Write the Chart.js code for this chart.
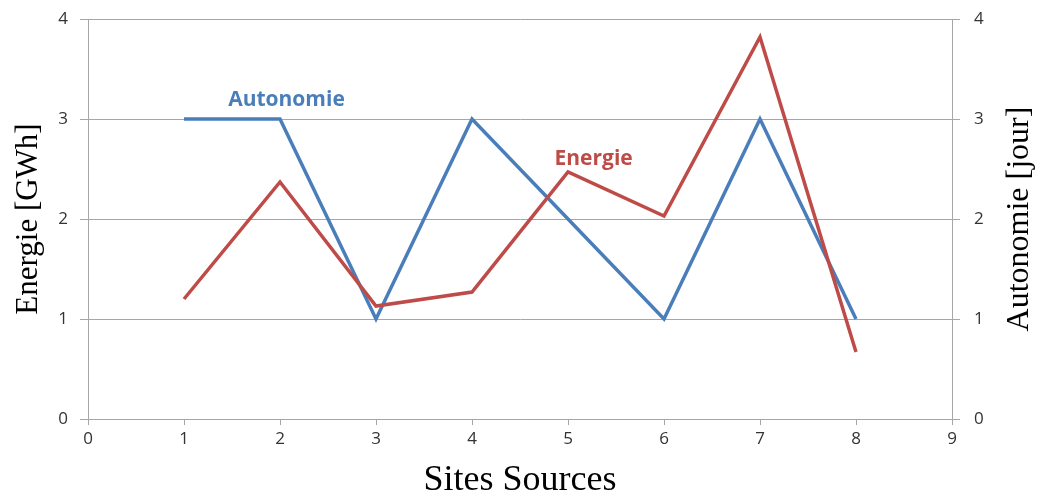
<!DOCTYPE html>
<html>
<head>
    <title>Energie et Autonomie par site</title>
    <script src="https://cdn.jsdelivr.net/npm/chart.js"></script>
    <style>
        html, body { margin: 0; padding: 0; background: #fff; }
        #wrap { width: 1040px; height: 497px; position: relative; }
    </style>
</head>
<body>
    <div id="wrap"><canvas id="chart"></canvas></div>

    <script>
        // Data
        const sites = [1, 2, 3, 4, 5, 6, 7, 8];
        const energie = [1.2, 2.37, 1.13, 1.27, 2.47, 2.03, 3.82, 0.67];   // GWh, left axis
        const autonomie = [3, 3, 1, 3, 2, 1, 3, 1];                        // jour, right axis
        const xTicks = [0, 1, 2, 3, 4, 5, 6, 7, 8, 9];
        const yTicks = [0, 1, 2, 3, 4];

        const BLUE = '#4a7ebb';
        const RED = '#be4b48';
        const GRID = '#a6a6a6';
        const TICK_FONT = { family: 'Open Sans', size: 17 };

        // series names written next to the lines, anchored in data space
        const seriesLabels = [
            { text: 'Autonomie', x: 1.46, y: 3.19, color: BLUE },
            { text: 'Energie', x: 4.86, y: 2.6, color: RED }
        ];

        const labelPlugin = {
            id: 'seriesLabels',
            afterDatasetsDraw(chart) {
                const ctx = chart.ctx;
                const xs = chart.scales.x, ys = chart.scales.y;
                ctx.save();
                ctx.font = 'bold 21px "Open Sans"';
                ctx.textBaseline = 'middle';
                ctx.textAlign = 'left';
                seriesLabels.forEach(l => {
                    ctx.fillStyle = l.color;
                    ctx.fillText(l.text, xs.getPixelForValue(l.x), ys.getPixelForValue(l.y));
                });
                ctx.restore();
            }
        };

        // right axis title reads bottom-to-top like the left one
        const rightTitle = {
            id: 'rightTitle',
            afterDraw(chart) {
                const ctx = chart.ctx;
                const ca = chart.chartArea;
                ctx.save();
                ctx.translate(1020, (ca.top + ca.bottom) / 2);
                ctx.rotate(-Math.PI / 2);
                ctx.font = '32px "Liberation Serif"';
                ctx.fillStyle = '#000';
                ctx.textAlign = 'center';
                ctx.textBaseline = 'middle';
                ctx.fillText('Autonomie [jour]', 0, 0);
                ctx.restore();
            }
        };

        // keep the plot box where the reference has it
        const noPad = s => { s.paddingTop = 0; s.paddingBottom = 0; };

        new Chart(document.getElementById('chart'), {
            type: 'line',
            data: {
                datasets: [{
                    label: 'Energie',
                    data: sites.map((s, i) => ({ x: s, y: energie[i] })),
                    borderColor: RED,
                    borderWidth: 3.5,
                    pointRadius: 0,
                    yAxisID: 'y'
                }, {
                    label: 'Autonomie',
                    data: sites.map((s, i) => ({ x: s, y: autonomie[i] })),
                    borderColor: BLUE,
                    borderWidth: 3.5,
                    pointRadius: 0,
                    yAxisID: 'y2'
                }]
            },
            options: {
                responsive: true,
                maintainAspectRatio: false,
                animation: false,
                layout: { padding: { top: 19, left: 0, right: 0, bottom: 0 } },
                plugins: { legend: { display: false }, tooltip: { enabled: false } },
                scales: {
                    x: {
                        type: 'linear',
                        min: 0, max: 9,
                        afterBuildTicks: s => { s.ticks = xTicks.map(v => ({ value: v })); },
                        afterFit: s => { s.height = 78; s.paddingLeft = 0; s.paddingRight = 0; },
                        grid: { drawOnChartArea: false, drawTicks: true, tickLength: 6, color: GRID },
                        border: { color: GRID, width: 1 },
                        ticks: { color: '#333', font: TICK_FONT, padding: 4, maxRotation: 0 },
                        title: {
                            display: true, text: 'Sites Sources', color: '#000',
                            font: { family: 'Liberation Serif', size: 36 }, padding: { top: 0, bottom: -5 }
                        }
                    },
                    y: {
                        position: 'left',
                        min: 0, max: 4,
                        afterBuildTicks: s => { s.ticks = yTicks.map(v => ({ value: v })); },
                        afterFit: s => { s.width = 88; noPad(s); },
                        grid: { color: GRID, tickLength: 8 },
                        border: { color: GRID },
                        ticks: { color: '#333', font: TICK_FONT, padding: 12 },
                        title: {
                            display: true, text: 'Energie [GWh]', color: '#000',
                            font: { family: 'Liberation Serif', size: 31 }, padding: { top: 10, bottom: 0 }
                        }
                    },
                    y2: {
                        position: 'right',
                        min: 0, max: 4,
                        afterBuildTicks: s => { s.ticks = yTicks.map(v => ({ value: v })); },
                        afterFit: s => { s.width = 88; noPad(s); },
                        grid: { drawOnChartArea: false, color: GRID, tickLength: 8 },
                        border: { color: GRID },
                        ticks: { color: '#333', font: TICK_FONT, padding: 14 }
                    }
                }
            },
            plugins: [labelPlugin, rightTitle]
        });
    </script>
</body>
</html>
